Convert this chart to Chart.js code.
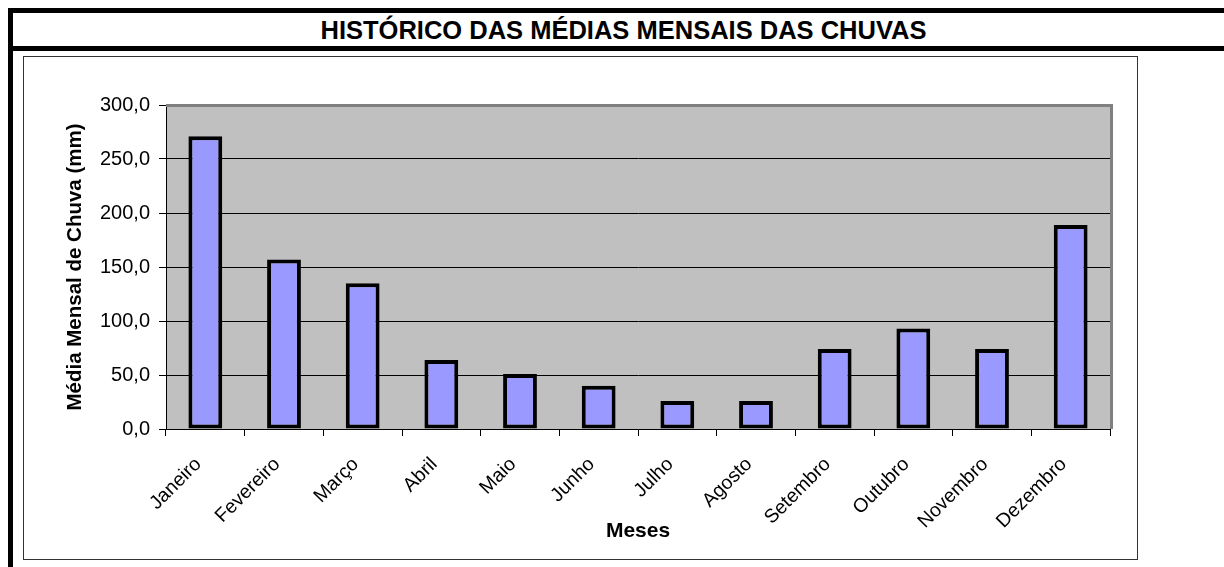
<!DOCTYPE html>
<html>
<head>
<meta charset="utf-8">
<script src="https://cdn.jsdelivr.net/npm/chart.js@4/dist/chart.umd.min.js"></script>
<style>
  html, body { margin: 0; padding: 0; background: #fff; width: 1224px; height: 567px; overflow: hidden; position: relative; font-family: "Liberation Sans", Arial, sans-serif; }
  .bar { position: absolute; background: #000; }
  #title { position: absolute; left: 23px; right: 0; top: 13px; height: 33px; line-height: 34px; text-align: center; font-weight: bold; font-size: 25.5px; color: #000; }
  #box { position: absolute; left: 23px; top: 56px; width: 1113px; height: 502px; border: 1px solid #333; }
  #c { position: absolute; left: 24px; top: 57px; }
</style>
</head>
<body>
<div class="bar" style="left:8px; top:8px; width:1216px; height:5px;"></div>
<div class="bar" style="left:8px; top:8px; width:5px; height:559px;"></div>
<div class="bar" style="left:8px; top:46px; width:1216px; height:5px;"></div>
<div id="title">HISTÓRICO DAS MÉDIAS MENSAIS DAS CHUVAS</div>
<div id="box"></div>
<canvas id="c" width="1113" height="502"></canvas>
<script>
const categories = ["Janeiro","Fevereiro","Março","Abril","Maio","Junho","Julho","Agosto","Setembro","Outubro","Novembro","Dezembro"];
const rainfall = [271, 157, 135, 64, 51, 40, 26, 26, 74, 93, 74, 189];
const yTicks = [0, 50, 100, 150, 200, 250, 300];

const plotBg = {
  id: 'plotBg',
  beforeDraw(chart) {
    const {ctx, chartArea: a} = chart;
    ctx.save();
    ctx.fillStyle = '#C0C0C0';
    ctx.fillRect(a.left, a.top, a.right - a.left, a.bottom - a.top);
    ctx.restore();
  },
  afterDatasetsDraw(chart) {
    const {ctx, chartArea: a} = chart;
    ctx.save();
    ctx.fillStyle = '#808080';
    ctx.fillRect(a.left, a.top - 1, a.right - a.left + 3, 3);
    ctx.fillRect(a.right, a.top - 1, 3, a.bottom - a.top + 1);
    ctx.restore();
  }
};

Chart.defaults.font.family = '"Liberation Sans", Arial, sans-serif';
Chart.defaults.color = '#000';

new Chart(document.getElementById('c'), {
  type: 'bar',
  data: {
    labels: categories,
    datasets: [{
      data: rainfall,
      backgroundColor: '#9999FF',
      borderColor: '#000',
      borderWidth: 4,
      borderSkipped: false,
      categoryPercentage: 1,
      barPercentage: 0.43
    }]
  },
  options: {
    responsive: false,
    animation: false,
    layout: { padding: { top: 48, right: 27, left: 0, bottom: 0 } },
    plugins: { legend: { display: false }, tooltip: { enabled: false } },
    scales: {
      y: {
        min: 0, max: 300,
        afterBuildTicks(scale) { scale.ticks = yTicks.map(v => ({ value: v })); },
        afterFit(scale) { scale.width = 142; },
        ticks: {
          font: { size: 20 },
          padding: 9,
          callback: v => v.toFixed(1).replace('.', ',')
        },
        grid: { color: '#000', lineWidth: 1, tickLength: 7, drawTicks: true },
        border: { color: '#000', width: 1 },
        title: {
          display: true,
          text: 'Média Mensal de Chuva (mm)',
          font: { size: 20.5, weight: 'bold' },
          padding: { top: 39, bottom: 0 }
        }
      },
      x: {
        afterFit(scale) { scale.height = 130; },
        ticks: {
          font: { size: 19.5 },
          minRotation: 45, maxRotation: 45,
          padding: 17,
          labelOffset: -7
        },
        grid: { drawOnChartArea: false, drawTicks: true, tickLength: 7, color: '#000', offset: true },
        border: { color: '#000', width: 1 },
        title: {
          display: true,
          text: 'Meses',
          font: { size: 21, weight: 'bold' },
          padding: { top: 0, bottom: 15 }
        }
      }
    }
  },
  plugins: [plotBg]
});
</script>
</body>
</html>
